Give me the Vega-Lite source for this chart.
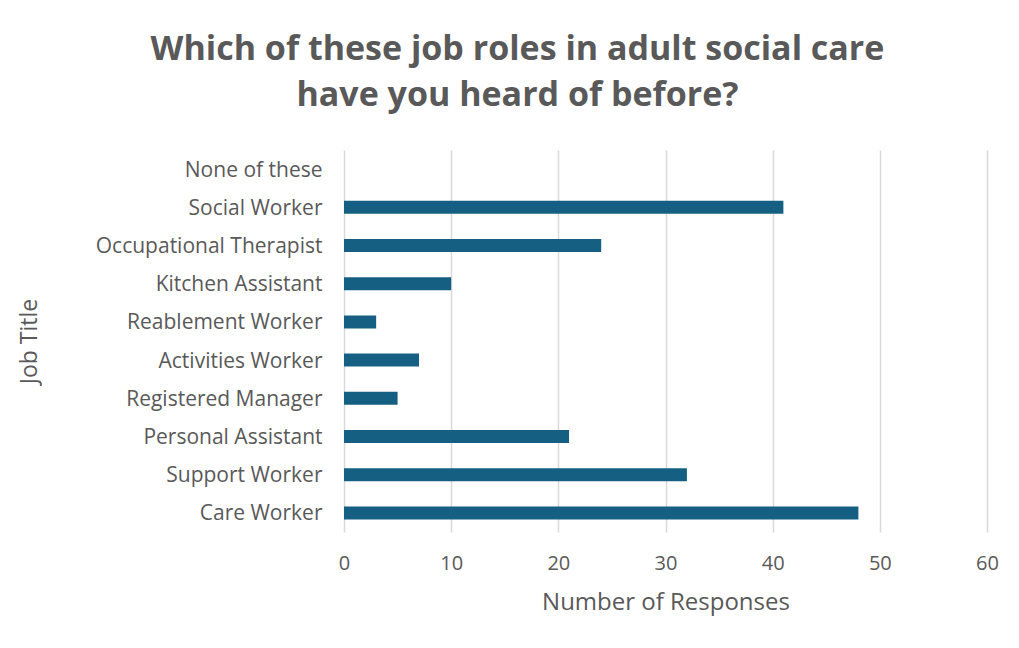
{
  "$schema": "https://vega.github.io/schema/vega-lite/v6.json",
  "width": 643,
  "height": 382,
  "autosize": {"type": "none"},
  "padding": {"left": 344, "top": 150, "right": 32, "bottom": 116},
  "background": "white",
  "config": {"view": {"stroke": null}, "font": "Open Sans"},
  "title": {
    "text": ["Which of these job roles in adult social care", "have you heard of before?"],
    "font": "Open Sans",
    "fontSize": 34,
    "fontWeight": "bold",
    "color": "#595959",
    "anchor": "middle",
    "dx": -148,
    "offset": 37,
    "lineHeight": 46
  },
  "data": {
    "values": [
      {"job": "Care Worker", "count": 48},
      {"job": "Support Worker", "count": 32},
      {"job": "Personal Assistant", "count": 21},
      {"job": "Registered Manager", "count": 5},
      {"job": "Activities Worker", "count": 7},
      {"job": "Reablement Worker", "count": 3},
      {"job": "Kitchen Assistant ", "count": 10},
      {"job": "Occupational Therapist", "count": 24},
      {"job": "Social Worker", "count": 41},
      {"job": "None of these", "count": 0}
    ]
  },
  "mark": {"type": "bar", "color": "#156082"},
  "encoding": {
    "y": {
      "field": "job",
      "type": "nominal",
      "sort": ["None of these", "Social Worker", "Occupational Therapist", "Kitchen Assistant ", "Reablement Worker", "Activities Worker", "Registered Manager", "Personal Assistant", "Support Worker", "Care Worker"],
      "scale": {"paddingInner": 0.66, "paddingOuter": 0.33},
      "axis": {
        "title": "Job Title",
        "titleFont": "Open Sans",
        "titleFontSize": 23,
        "titleFontWeight": "normal",
        "titleColor": "#595959",
        "titlePadding": 103,
        "labelFont": "Open Sans",
        "labelFontSize": 21,
        "labelColor": "#595959",
        "labelPadding": 22,
        "labelLimit": 400,
        "labelOffset": 1.5,
        "ticks": false,
        "domain": false,
        "grid": false
      }
    },
    "x": {
      "field": "count",
      "type": "quantitative",
      "scale": {"domain": [0, 60], "nice": false},
      "axis": {
        "title": "Number of Responses",
        "titleFont": "Open Sans",
        "titleFontSize": 24,
        "titleFontWeight": "normal",
        "titleColor": "#595959",
        "titlePadding": 17,
        "values": [0, 10, 20, 30, 40, 50, 60],
        "labelFont": "Open Sans",
        "labelFontSize": 20,
        "labelColor": "#595959",
        "labelPadding": 21,
        "labelFlush": false,
        "ticks": false,
        "domain": false,
        "grid": true,
        "gridColor": "#d9d9d9",
        "gridWidth": 1.5
      }
    }
  }
}
